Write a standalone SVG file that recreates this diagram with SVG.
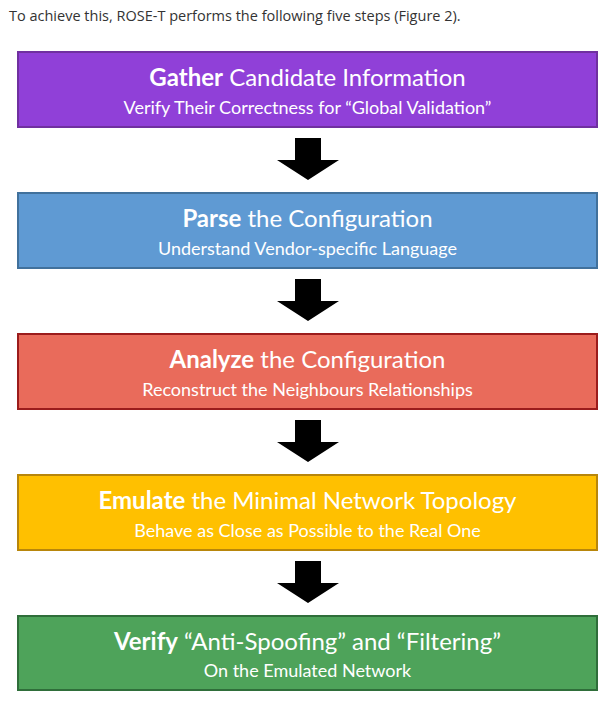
<svg xmlns="http://www.w3.org/2000/svg" width="616" height="709" viewBox="0 0 616 709">
<defs><style>
.cap{font-family:"Open Sans","Noto Sans",sans-serif;font-size:14.5px;fill:#333}
.t{font-family:Lato,"Open Sans",sans-serif;font-size:24px;fill:#fff;text-anchor:middle}
.s{font-family:Lato,"Open Sans",sans-serif;font-size:18px;fill:#fff;text-anchor:middle}
.b{font-weight:bold}
.box{stroke-width:2}
</style>
<path id="arr" d="M-13,0 H13 V22 H31 L0,42 L-31,22 H-13 Z" fill="#000"/>
</defs>
<rect width="616" height="709" fill="#fff"/>
<text class="cap" x="9" y="21">To achieve this, ROSE-T performs the following five steps (Figure 2).</text>
<g id="n1"><rect class="box" x="18" y="52" width="579" height="75" fill="#9040d8" stroke="#7030a0"/>
<text class="t" x="307.5" y="86"><tspan class="b">Gather</tspan> Candidate Information</text>
<text class="s" x="307.5" y="114">Verify Their Correctness for “Global Validation”</text></g>
<g id="n2"><rect class="box" x="18" y="193" width="579" height="75" fill="#5f9ad3" stroke="#41719c"/>
<text class="t" x="307.5" y="227"><tspan class="b">Parse</tspan> the Configuration</text>
<text class="s" x="307.5" y="255">Understand Vendor-specific Language</text></g>
<g id="n3"><rect class="box" x="18" y="334" width="579" height="75" fill="#e96b5b" stroke="#9b1c1c"/>
<text class="t" x="307.5" y="368"><tspan class="b">Analyze</tspan> the Configuration</text>
<text class="s" x="307.5" y="396">Reconstruct the Neighbours Relationships</text></g>
<g id="n4"><rect class="box" x="18" y="475" width="579" height="75" fill="#ffc000" stroke="#b8860b"/>
<text class="t" x="307.5" y="509"><tspan class="b">Emulate</tspan> the Minimal Network Topology</text>
<text class="s" x="307.5" y="537">Behave as Close as Possible to the Real One</text></g>
<g id="n5"><rect class="box" x="18" y="616" width="579" height="74" fill="#4ea35a" stroke="#2f6e3a"/>
<text class="t" x="307.5" y="650"><tspan class="b">Verify</tspan> “Anti-Spoofing” and “Filtering”</text>
<text class="s" x="307.5" y="677">On the Emulated Network</text></g>
<g id="connectors">
<use href="#arr" x="308" y="138"/>
<use href="#arr" x="308" y="279"/>
<use href="#arr" x="308" y="420"/>
<use href="#arr" x="308" y="561"/>
</g>
</svg>
